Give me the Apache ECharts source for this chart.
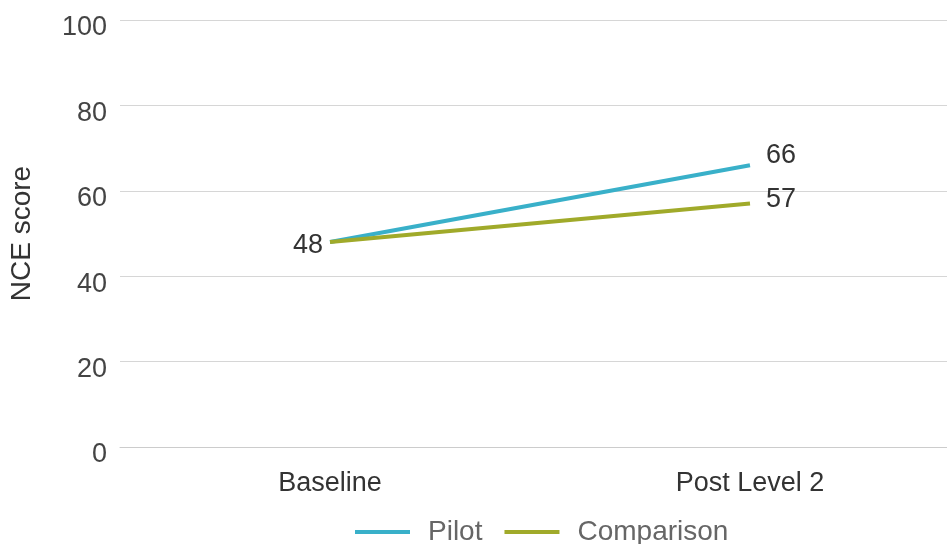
<!DOCTYPE html>
<html><head><meta charset="utf-8">
<script src="https://cdn.jsdelivr.net/npm/echarts@6/dist/echarts.min.js"></script>
<style>html,body{margin:0;padding:0;background:#fff}#c{width:947px;height:544px}</style>
</head><body><div id="c"></div>
<script>
const categories = ['Baseline', 'Post Level 2'];
const pilot = [48, 66];
const comparison = [48, 57];
const yTicks = [0, 20, 40, 60, 80, 100];

const font = 'Liberation Sans';
const chart = echarts.init(document.getElementById('c'));
function mkData(vals, showFirst, endOffset) {
  return vals.map((v, i) => ({
    value: v,
    label: {
      show: i === 0 ? showFirst : true,
      position: i === 0 ? 'left' : 'right',
      distance: i === 0 ? 7 : 16,
      offset: i === 0 ? [0, 4] : [0, endOffset]
    }
  }));
}
chart.setOption({
  animation: false,
  grid: { left: 120, top: 20, width: 840, height: 427, containLabel: false, outerBoundsMode: 'none' },
  legend: {
    top: 513, left: 350,
    itemWidth: 55, itemHeight: 4, itemGap: 22,
    icon: 'rect',
    textStyle: { fontFamily: font, fontSize: 28, color: '#666', padding: [0, 0, 0, 13] },
    data: ['Pilot', 'Comparison']
  },
  xAxis: {
    type: 'category', data: categories, boundaryGap: true,
    axisLine: { show: true, lineStyle: { color: '#ccc', width: 1 } },
    axisTick: { show: false },
    axisLabel: { fontFamily: font, fontSize: 27, color: '#333', margin: 23 }
  },
  yAxis: {
    type: 'value', min: 0, max: 100, interval: 20,
    name: 'NCE score', nameLocation: 'middle', nameGap: 84, nameRotate: 90,
    nameTextStyle: { fontFamily: font, fontSize: 28, color: '#333' },
    axisLine: { show: false }, axisTick: { show: false },
    axisLabel: { margin: 13,
      formatter: v => yTicks.includes(v) ? '{a|' + v + '}' : '',
      rich: { a: { fontFamily: font, fontSize: 27, color: '#444', padding: [16, 0, 0, 0] } } },
    splitLine: { lineStyle: { color: '#d6d6d6', width: 1 } }
  },
  series: [
    { name: 'Pilot', type: 'line', data: mkData(pilot, false, -10), symbol: 'circle', symbolSize: 0, showSymbol: true,
      lineStyle: { width: 4, color: '#39b0c9' }, itemStyle: { color: '#39b0c9' },
      label: { fontFamily: font, fontSize: 27, color: '#333' } },
    { name: 'Comparison', type: 'line', data: mkData(comparison, true, -4), symbol: 'circle', symbolSize: 0, showSymbol: true,
      lineStyle: { width: 4, color: '#a0aa2a' }, itemStyle: { color: '#a0aa2a' },
      label: { fontFamily: font, fontSize: 27, color: '#333' } }
  ]
});
</script></body></html>
